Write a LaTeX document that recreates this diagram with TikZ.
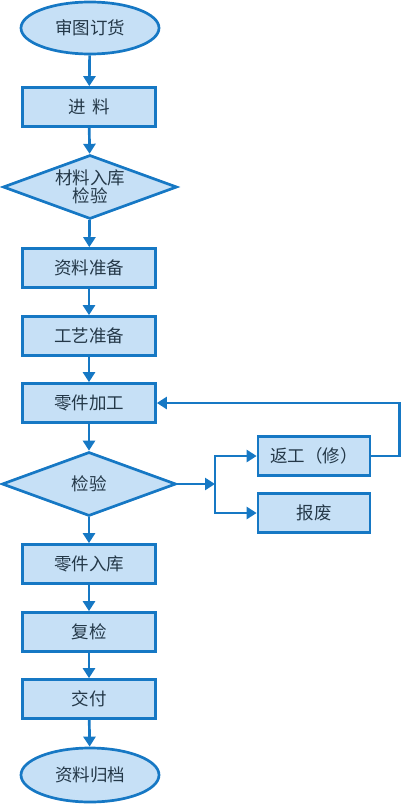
\documentclass[tikz,border=0pt]{standalone}
\usepackage{fontspec}
\setmainfont{Noto Sans CJK SC}
\usetikzlibrary{shapes.geometric,arrows.meta}
\definecolor{flowline}{RGB}{22,120,196}
\definecolor{flowfill}{RGB}{198,224,246}
\definecolor{flowtext}{RGB}{36,56,72}

\begin{document}
\begin{tikzpicture}[x=1pt,y=1pt,yscale=-1,xscale=1,
  every node/.style={font=\fontsize{17.5}{21}\selectfont,text=flowtext},
  procbox/.style={draw=flowline,fill=flowfill,line width=2.7pt,rectangle,minimum width=133pt,minimum height=39pt,inner sep=0pt},
  sidebox/.style={procbox,minimum width=112pt},
  termbox/.style={draw=flowline,fill=flowfill,line width=2.7pt,ellipse,minimum width=138pt,minimum height=52pt,inner sep=0pt},
  testbox/.style={draw=flowline,fill=flowfill,line width=2.7pt,diamond,aspect=2.7,minimum width=174pt,minimum height=64pt,inner sep=-6pt,align=center},
  arr/.style={draw=flowline,line width=2.7pt,-{Triangle[width=12pt,length=10pt]}}]
\useasboundingbox (0,0) rectangle (400,806);

%Shape: Ellipse
\node[termbox] (order) at (90,28) {审图订货};
%Shape: Rectangle
\node[procbox] (feed) at (89,107) {进\hspace{0.35em}料};
%Shape: Diamond
\node[testbox] (stock) at (90,187) {材料入库\\[-3pt]检验};
%Shape: Rectangle
\node[procbox] (docs) at (89,268) {资料准备};
%Shape: Rectangle
\node[procbox] (tech) at (89,336) {工艺准备};
%Shape: Rectangle
\node[procbox] (machine) at (89,403) {零件加工};
%Shape: Diamond
\node[testbox] (check) at (89,484) {检验};
%Shape: Rectangle
\node[sidebox] (rework) at (314,456) {返工（修）};
%Shape: Rectangle
\node[sidebox] (scrap) at (314,513) {报废};
%Shape: Rectangle
\node[procbox] (store) at (89,564) {零件入库};
%Shape: Rectangle
\node[procbox] (recheck) at (89,632) {复检};
%Shape: Rectangle
\node[procbox] (deliver) at (89,699) {交付};
%Shape: Ellipse
\node[termbox,minimum height=54pt] (archive) at (90,775) {资料归档};

%Fork point
\coordinate (fork) at (215,484);

%Straight Lines
\draw[arr] (order) -- (feed);
\draw[arr] (feed) -- (stock);
\draw[arr] (stock) -- (docs);
\draw[arr] (docs) -- (tech);
\draw[arr] (tech) -- (machine);
\draw[arr] (machine) -- (check);
\draw[arr] (check) -- (fork);
\draw[arr] (fork) |- (rework);
\draw[arr] (fork) |- (scrap);
\draw[arr] (rework.east) -- ++(28,0) |- (machine.east);
\draw[arr] (check) -- (store);
\draw[arr] (store) -- (recheck);
\draw[arr] (recheck) -- (deliver);
\draw[arr] (deliver) -- (archive);

\end{tikzpicture}
\end{document}
